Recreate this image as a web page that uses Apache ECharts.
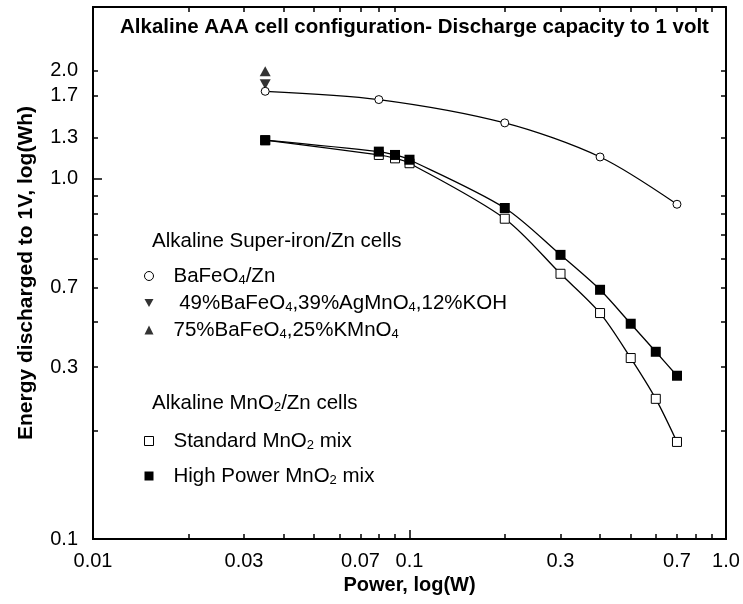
<!DOCTYPE html>
<html>
<head>
<meta charset="utf-8">
<script src="https://cdn.jsdelivr.net/npm/echarts@6/dist/echarts.min.js"></script>
<style>
  html, body { margin: 0; padding: 0; background: #fff; }
  #chart { width: 743px; height: 604px; }
</style>
</head>
<body>
<div id="chart"></div>
<script>
// power (W) for each measured point
const powerBaFeO4 = [0.035, 0.08, 0.2, 0.4, 0.7];
const energyBaFeO4 = [1.75, 1.66, 1.43, 1.15, 0.85];

const powerAgMnO4 = [0.035];
const energyAgMnO4 = [1.83];

const powerKMnO4 = [0.035];
const energyKMnO4 = [1.99];

const powerMnO2 = [0.035, 0.08, 0.09, 0.1, 0.2, 0.3, 0.4, 0.5, 0.6, 0.7];
const energyStandard = [1.28, 1.165, 1.14, 1.105, 0.775, 0.545, 0.424, 0.318, 0.245, 0.186];
const energyHighPower = [1.28, 1.19, 1.165, 1.13, 0.83, 0.615, 0.492, 0.396, 0.331, 0.284];

// tick labels (values where they sit, text shown)
const xLabelValues = [0.01, 0.03, 0.07, 0.1, 0.3, 0.7, 1.0];
const xLabelTexts = ['0.01', '0.03', '0.07', '0.1', '0.3', '0.7', '1.0'];
const yLabelValues = [0.1, 0.3, 0.5, 1.0, 1.3, 1.7, 2.0];
const yLabelTexts = ['0.1', '0.3', '0.7', '1.0', '1.3', '1.7', '2.0'];

const xMinorTicks = [0.02, 0.03, 0.04, 0.05, 0.06, 0.07, 0.08, 0.09, 0.2, 0.3, 0.4, 0.5, 0.6, 0.7, 0.8, 0.9];
const yMinorTicks = [0.2, 0.3, 0.4, 0.5, 0.6, 0.7, 0.8, 0.9, 1.3, 1.7, 2.0];

const names = {
  baFeO4: 'BaFeO4/Zn',
  agMnO4: '49%BaFeO4,39%AgMnO4,12%KOH',
  kMnO4: '75%BaFeO4,25%KMnO4',
  standard: 'Standard MnO2 mix',
  highPower: 'High Power MnO2 mix'
};
const richNames = {};
richNames[names.baFeO4] = 'BaFeO{s|4}/Zn';
richNames[names.agMnO4] = ' 49%BaFeO{s|4},39%AgMnO{s|4},12%KOH';
richNames[names.kMnO4] = '75%BaFeO{s|4},25%KMnO{s|4}';
richNames[names.standard] = 'Standard MnO{s|2} mix';
richNames[names.highPower] = 'High Power MnO{s|2} mix';

const downTri = 'path://M0,0L10,0L5,9Z';
const font = 'Liberation Sans, Arial, Helvetica, sans-serif';

function pairs(xs, ys) {
  return xs.map((x, i) => [x, ys[i]]);
}

const richSub = {
  s: { fontSize: 13, fontFamily: font, color: '#000', padding: [8, 0, 0, 0] }
};

function xAxisBase(extra) {
  return Object.assign({
    type: 'log', min: 0.01, max: 1, logBase: 10,
    axisLine: { show: true, lineStyle: { color: '#000', width: 2 } },
    splitLine: { show: false },
    axisTick: { show: true, inside: true, length: 5, customValues: xMinorTicks, lineStyle: { color: '#000', width: 1.5 } },
    axisLabel: { show: false }
  }, extra);
}
function yAxisBase(extra) {
  return Object.assign({
    type: 'log', min: 0.1, max: 3, logBase: 10,
    axisLine: { show: true, lineStyle: { color: '#000', width: 2 } },
    splitLine: { show: false },
    axisTick: { show: true, inside: true, length: 5, customValues: yMinorTicks, lineStyle: { color: '#000', width: 1.5 } },
    axisLabel: { show: false }
  }, extra);
}

const chart = echarts.init(document.getElementById('chart'));
chart.setOption({
  animation: false,
  backgroundColor: '#fff',
  title: [
    {
      text: 'Alkaline AAA cell configuration- Discharge capacity to 1 volt',
      left: 120, top: 16, padding: 0,
      textStyle: { fontFamily: font, fontSize: 20.5, fontWeight: 'bold', color: '#000', lineHeight: 22 }
    },
    {
      text: 'Alkaline Super-iron/Zn cells',
      left: 152, top: 230, padding: 0,
      textStyle: { fontFamily: font, fontSize: 20.5, fontWeight: 'normal', color: '#000', lineHeight: 22 }
    },
    {
      text: 'Alkaline MnO{s|2}/Zn cells',
      left: 152, top: 392, padding: 0,
      textStyle: { fontFamily: font, fontSize: 20.5, fontWeight: 'normal', color: '#000', lineHeight: 22, rich: richSub }
    }
  ],
  legend: [
    {
      orient: 'vertical', left: 144, top: 265, padding: 0, itemWidth: 9, itemHeight: 9, itemGap: 5,
      data: [
        { name: names.baFeO4, icon: 'circle', itemStyle: { color: '#fff', borderColor: '#000', borderWidth: 1 } },
        { name: names.agMnO4, icon: downTri, itemStyle: { color: '#000' } },
        { name: names.kMnO4, icon: 'triangle', itemStyle: { color: '#000' } }
      ],
      formatter: (n) => richNames[n],
      textStyle: { fontFamily: font, fontSize: 20.5, color: '#000', lineHeight: 22, padding: [0, 0, 0, 15], rich: richSub }
    },
    {
      orient: 'vertical', left: 144, top: 430, padding: 0, itemWidth: 9, itemHeight: 9, itemGap: 13,
      data: [
        { name: names.standard, icon: 'rect', itemStyle: { color: '#fff', borderColor: '#000', borderWidth: 1 } },
        { name: names.highPower, icon: 'rect', itemStyle: { color: '#000' } }
      ],
      formatter: (n) => richNames[n],
      textStyle: { fontFamily: font, fontSize: 20.5, color: '#000', lineHeight: 22, padding: [0, 0, 0, 15], rich: richSub }
    }
  ],
  grid: { left: 93, right: 17, top: 7, bottom: 65 },
  xAxis: [
    xAxisBase({
      position: 'bottom',
      name: 'Power, log(W)', nameLocation: 'middle', nameGap: 36,
      nameTextStyle: { fontFamily: font, fontSize: 20, fontWeight: 'bold', color: '#000' },
      axisLabel: {
        show: true, margin: 12, customValues: xLabelValues,
        fontFamily: font, fontSize: 20, color: '#000',
        formatter: (v) => xLabelTexts[xLabelValues.findIndex((t) => Math.abs(t - v) < 1e-9)]
      }
    }),
    xAxisBase({
      position: 'bottom',
      axisTick: { show: true, inside: true, length: 9, customValues: [0.1], lineStyle: { color: '#000', width: 1.5 } }
    }),
    xAxisBase({ position: 'top' })
  ],
  yAxis: [
    yAxisBase({
      position: 'left',
      name: 'Energy discharged to 1V, log(Wh)', nameLocation: 'middle', nameGap: 56,
      nameTextStyle: { fontFamily: font, fontSize: 21, fontWeight: 'bold', color: '#000' },
      axisLabel: {
        show: true, margin: 15, customValues: yLabelValues,
        fontFamily: font, fontSize: 20, color: '#000',
        formatter: (v) => yLabelTexts[yLabelValues.findIndex((t) => Math.abs(t - v) < 1e-9)]
      }
    }),
    yAxisBase({
      position: 'left',
      axisTick: { show: true, inside: true, length: 9, customValues: [1.0], lineStyle: { color: '#000', width: 1.5 } }
    }),
    yAxisBase({ position: 'right' })
  ],
  series: [
    {
      name: names.baFeO4, type: 'line', smooth: 0.3,
      data: pairs(powerBaFeO4, energyBaFeO4),
      symbol: 'circle', symbolSize: 8,
      itemStyle: { color: '#fff', borderColor: '#000', borderWidth: 1 },
      lineStyle: { color: '#000', width: 1.3 }
    },
    {
      name: names.agMnO4, type: 'scatter',
      data: pairs(powerAgMnO4, energyAgMnO4),
      symbol: downTri, symbolSize: [11, 10],
      itemStyle: { color: '#000' }
    },
    {
      name: names.kMnO4, type: 'scatter',
      data: pairs(powerKMnO4, energyKMnO4),
      symbol: 'triangle', symbolSize: [11, 10],
      itemStyle: { color: '#000' }
    },
    {
      name: names.standard, type: 'line', smooth: 0.3,
      data: pairs(powerMnO2, energyStandard),
      symbol: 'rect', symbolSize: 9,
      itemStyle: { color: '#fff', borderColor: '#000', borderWidth: 1 },
      lineStyle: { color: '#000', width: 1.3 }
    },
    {
      name: names.highPower, type: 'line', smooth: 0.3,
      data: pairs(powerMnO2, energyHighPower),
      symbol: 'rect', symbolSize: 10,
      itemStyle: { color: '#000' },
      lineStyle: { color: '#000', width: 1.3 }
    }
  ]
});
</script>
</body>
</html>
